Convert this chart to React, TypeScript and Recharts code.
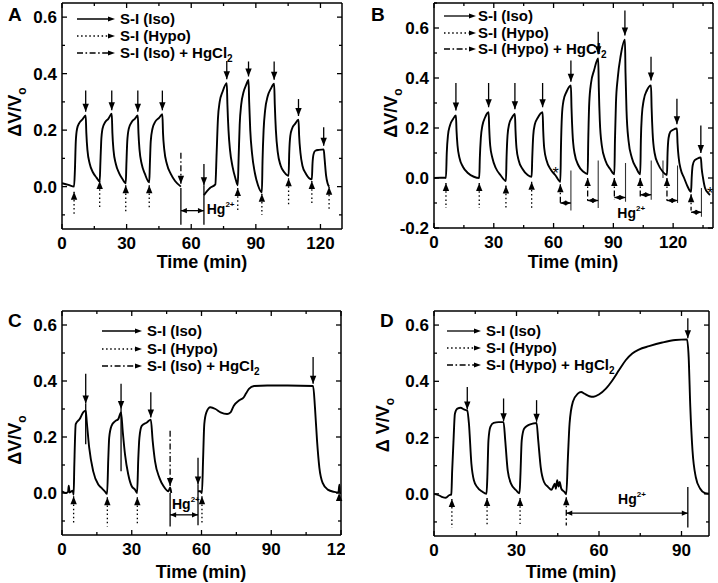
import React from "react";
import { LineChart, Line, XAxis, YAxis, ReferenceLine, ReferenceDot } from "recharts";

type Pt = [number, number | null];
type Tri = [number, number, number];

const FONT = "Arial, 'Liberation Sans', Helvetica, sans-serif";

// ---------- panel A ----------
const aTrace: Pt[] = [
  [0, 0.012], [3, 0.006], [5.6, 0.0], [6.0, 0.06], [6.4, 0.16], [7, 0.205], [8, 0.225], [9.5, 0.238], [11, 0.252],
  [11.3, 0.19], [11.8, 0.13], [12.9, 0.08], [14.4, 0.05], [16, 0.032], [17.5, 0.018],
  [17.8, 0.08], [18.2, 0.16], [18.8, 0.205], [20, 0.228], [21.5, 0.24], [23.1, 0.258],
  [23.4, 0.19], [23.9, 0.13], [25, 0.08], [26.5, 0.048], [28, 0.028], [29.6, 0.012],
  [29.9, 0.08], [30.3, 0.16], [31, 0.205], [32.3, 0.228], [33.8, 0.24], [35.2, 0.252],
  [35.5, 0.19], [36, 0.13], [37, 0.08], [38.5, 0.045], [40.5, 0.015],
  [40.8, 0.08], [41.2, 0.16], [42, 0.205], [43.3, 0.23], [45, 0.243], [46.6, 0.256],
  [46.9, 0.19], [47.5, 0.13], [48.7, 0.08], [50.5, 0.045], [52.5, 0.02], [55.2, 0.0],
  [60, null],
  [65.9, -0.03], [68.7, -0.005], [71.2, 0.008], [71.8, 0.12], [72.4, 0.24], [73.2, 0.3], [74.5, 0.335], [76.5, 0.366],
  [76.8, 0.29], [77.3, 0.2], [78, 0.13], [79.2, 0.07], [80.5, 0.03], [81.6, 0.005],
  [82, 0.1], [82.5, 0.22], [83.2, 0.29], [84.3, 0.335], [85.5, 0.36], [86.6, 0.378],
  [86.9, 0.3], [87.4, 0.2], [88.2, 0.12], [89.5, 0.05], [91, 0.005], [92.8, -0.02],
  [93.1, 0.09], [93.6, 0.2], [94.3, 0.27], [95.5, 0.32], [97, 0.347], [98.5, 0.364],
  [98.8, 0.29], [99.3, 0.2], [100.2, 0.12], [101.5, 0.075], [103.3, 0.05], [105.2, 0.038],
  [105.5, 0.12], [106, 0.18], [106.8, 0.205], [108.2, 0.222], [109.8, 0.237],
  [110.1, 0.18], [110.7, 0.12], [111.6, 0.075], [113.3, 0.045], [116, 0.026],
  [116.3, 0.08], [116.8, 0.115], [117.6, 0.127], [119.3, 0.13], [121.5, 0.132],
  [121.9, 0.1], [122.6, 0.04], [123.3, 0.012], [124, 0.0],
];
// [time, top of arrow line, arrow tip]
const aDown: Tri[] = [
  [11, 0.34, 0.265], [23.1, 0.34, 0.27], [35.2, 0.34, 0.265], [46.6, 0.34, 0.27], [65.9, 0.08, 0.005],
  [76.5, 0.445, 0.38], [86.6, 0.443, 0.39], [98.5, 0.443, 0.378], [109.8, 0.31, 0.25], [121.5, 0.21, 0.145],
];
const aHgDown: Tri[] = [[55.2, 0.12, 0.01]];
// [time, arrow tip, end of dotted line]
const aUp: Tri[] = [
  [5.6, -0.018, -0.105], [17.5, 0.02, -0.08], [29.6, 0.005, -0.09], [40.5, 0.005, -0.075],
  [81.6, -0.005, -0.085], [92.8, -0.025, -0.1], [105.2, 0.03, -0.065], [116, 0.02, -0.065], [124, 0.0, -0.08],
];
const aHgUp: Tri[] = [];
const aLines: Tri[] = [[55.2, -0.005, -0.135], [65.9, 0.005, -0.135]];
const aThin: Tri[] = [];
// [start, end, level]
const aHg: Tri[] = [[55.2, 65.9, -0.085]];
const aHgLabel: [number, number] = [67.2, -0.098];

// ---------- panel B ----------
const bTrace: Pt[] = [
  [0, 0], [5.8, 0.002], [6.0, 0.0], [6.4, 0.1], [7.0, 0.17], [8, 0.21], [9.5, 0.235], [11, 0.25],
  [11.3, 0.19], [11.8, 0.13], [12.8, 0.08], [14.5, 0.045], [17, 0.02], [20, 0.005], [22.7, 0.0],
  [23.0, 0.08], [23.5, 0.16], [24.3, 0.21], [25.5, 0.24], [27.4, 0.263],
  [27.7, 0.2], [28.2, 0.13], [29.3, 0.08], [31, 0.04], [33.5, 0.01], [36.1, -0.012],
  [36.4, 0.08], [36.9, 0.17], [37.7, 0.215], [39, 0.24], [40.6, 0.256],
  [40.9, 0.19], [41.4, 0.12], [42.5, 0.07], [44.5, 0.035], [47, 0.012], [49, 0.005],
  [49.3, 0.08], [49.8, 0.17], [50.6, 0.215], [52, 0.24], [54.5, 0.263],
  [54.8, 0.19], [55.3, 0.12], [56.5, 0.07], [58.5, 0.035], [61, 0.01], [63.4, -0.015],
  [63.7, 0.12], [64.2, 0.25], [65, 0.31], [66.5, 0.345], [68.7, 0.37],
  [69, 0.28], [69.5, 0.18], [70.5, 0.1], [72.5, 0.05], [75, 0.025], [77.1, 0.016],
  [77.4, 0.15], [77.9, 0.3], [78.8, 0.38], [80.3, 0.43], [82.4, 0.478],
  [82.7, 0.36], [83.2, 0.23], [84.2, 0.13], [86, 0.07], [88.5, 0.035], [90.5, 0.015],
  [90.8, 0.15], [91.3, 0.3], [92.2, 0.4], [93.7, 0.49], [95.8, 0.553],
  [96.1, 0.42], [96.6, 0.27], [97.6, 0.15], [99.3, 0.08], [101.5, 0.04], [103.5, 0.015],
  [103.8, 0.15], [104.3, 0.25], [105.2, 0.31], [106.8, 0.35], [108.9, 0.37],
  [109.2, 0.28], [109.7, 0.18], [110.7, 0.1], [112.5, 0.055], [114.8, 0.025], [116.9, 0.012],
  [117.2, 0.1], [117.7, 0.16], [118.6, 0.185], [120, 0.193], [121.9, 0.198],
  [122.2, 0.14], [122.8, 0.08], [123.8, 0.035], [125.5, 0.0], [127.3, -0.035], [129, -0.055],
  [129.3, 0.0], [129.8, 0.05], [130.7, 0.07], [132, 0.077], [133.9, 0.082],
  [134.3, 0.04], [135, 0.0], [136, -0.04], [137.5, -0.06], [138.5, -0.068],
];
const bDown: Tri[] = [
  [11, 0.38, 0.27], [27.4, 0.38, 0.283], [40.6, 0.38, 0.275], [54.5, 0.38, 0.283], [68.7, 0.47, 0.385],
  [82.4, 0.585, 0.495], [95.8, 0.67, 0.57], [108.9, 0.485, 0.39], [121.9, 0.317, 0.215], [133.9, 0.21, 0.1],
];
const bHgDown: Tri[] = [];
const bUp: Tri[] = [[6.0, -0.02, -0.12], [22.7, -0.02, -0.12], [36.1, -0.03, -0.12], [49, -0.015, -0.12]];
const bHgUp: Tri[] = [
  [63.4, -0.025, -0.1], [77.1, 0.0, -0.1], [90.5, 0.0, -0.085], [103.5, 0.0, -0.08], [116.9, 0.0, -0.095], [129, -0.065, -0.13],
];
const bLines: Tri[] = [];
const bThin: Tri[] = [
  [68.7, 0.03, -0.13], [82.4, 0.07, -0.12], [96.1, 0.06, -0.095], [109, 0.07, -0.087],
  [114.9, 0.07, 0.0], [122.2, 0.05, -0.1], [134.2, -0.04, -0.155],
];
const bHg: Tri[] = [
  [63.4, 68.7, -0.1], [77.1, 82.4, -0.09], [90.5, 96.1, -0.078], [103.5, 109, -0.067], [116.9, 122.2, -0.09], [129, 134.2, -0.137],
];
const bHgLabel: [number, number] = [92, -0.158];
const bStars: [number, number][] = [[61, 0.02], [138.5, -0.06]];

// ---------- panel C ----------
const cTrace: Pt[] = [
  [0, 0.006], [1.8, 0.0], [2.6, 0.004], [2.9, 0.026], [3.3, 0.002], [4.6, 0.008], [5.0, -0.006],
  [5.3, 0.1], [5.9, 0.246], [7.6, 0.264], [9.1, 0.288], [10.2, 0.294],
  [10.7, 0.25], [11.7, 0.162], [13.4, 0.078], [15.6, 0.03], [17, 0.018], [18.4, 0.006], [19.4, -0.003],
  [19.9, 0.12], [20.3, 0.198], [21.3, 0.24], [22.8, 0.256], [24.2, 0.264], [25.4, 0.288],
  [26.1, 0.222], [27.1, 0.138], [28.5, 0.066], [30, 0.024], [31.4, 0.012], [32.3, 0.0],
  [32.8, 0.12], [33.3, 0.198], [34.3, 0.24], [36.5, 0.252], [38.2, 0.262],
  [39, 0.186], [40, 0.114], [41.9, 0.054], [43.7, 0.024], [45.8, 0.006], [46.5, 0.02], [47, 0.0],
  [52, null],
  [58.5, 0.006], [59.5, 0.006], [60.2, 0.0], [60.7, 0.126], [61.2, 0.246], [62.1, 0.288], [63.8, 0.306],
  [66, 0.3], [68.2, 0.288], [71, 0.282], [72.5, 0.288], [73.9, 0.312], [76.1, 0.33], [78.2, 0.342],
  [79.2, 0.356], [80.4, 0.372], [82.6, 0.382], [88.3, 0.384], [97, 0.384], [108, 0.382],
  [108.8, 0.306], [109.7, 0.186], [110.7, 0.09], [112.1, 0.036], [114.3, 0.012], [117.1, 0.004],
  [118.9, 0.002], [119.3, 0.03], [119.6, 0.0], [120, 0.0],
];
const cDown: Tri[] = [[10.2, 0.426, 0.32], [25.4, 0.39, 0.3], [38.2, 0.36, 0.27], [108, 0.486, 0.39], [58.5, 0.126, 0.03]];
const cHgDown: Tri[] = [[46.5, 0.222, 0.025]];
const cUp: Tri[] = [[5.0, -0.012, -0.108], [19.5, -0.015, -0.12], [32.4, -0.015, -0.115], [60.2, -0.012, -0.11], [119.2, 0.0, 0.0]];
const cHgUp: Tri[] = [];
const cLines: Tri[] = [[10.2, 0.32, 0.174], [25.4, 0.3, 0.078], [46.5, 0.0, -0.12], [58.5, 0.03, -0.115]];
const cThin: Tri[] = [];
const cHg: Tri[] = [[46.5, 58.5, -0.078]];
const cHgLabel: [number, number] = [47.3, -0.058];

// ---------- panel D ----------
const dTrace: Pt[] = [
  [0, 0], [1.9, -0.006], [3.1, -0.012], [4.3, -0.014], [5.5, -0.005], [6.3, -0.002],
  [6.6, 0.08], [7.1, 0.19], [7.6, 0.285], [8.5, 0.303], [9.7, 0.306], [10.9, 0.3], [12.1, 0.295],
  [12.7, 0.25], [13.6, 0.107], [14.5, 0.048], [15.7, 0.024], [17.5, 0.008], [19.1, 0.0],
  [19.4, 0.06], [19.8, 0.19], [20.5, 0.238], [21.7, 0.252], [23.5, 0.255], [25.3, 0.255],
  [25.9, 0.19], [26.8, 0.083], [28, 0.036], [29.9, 0.012], [31.1, 0.002],
  [31.4, 0.06], [31.9, 0.19], [32.8, 0.232], [34.3, 0.244], [36.1, 0.25], [37.3, 0.252],
  [37.9, 0.19], [38.8, 0.095], [40, 0.042], [41.5, 0.024], [42.7, 0.014], [43.3, 0.024], [43.9, 0.036],
  [44.3, 0.018], [44.8, 0.048], [45.3, 0.026], [45.7, 0.042], [46.3, 0.018], [47.5, 0.006], [48.1, -0.002],
  [48.7, 0.13], [49.3, 0.25], [50.5, 0.327], [52.3, 0.356], [53.5, 0.362], [54.7, 0.356], [56.5, 0.347],
  [58, 0.345], [60.1, 0.354], [62.5, 0.374], [64.9, 0.404], [67.3, 0.44], [69.7, 0.475], [72.1, 0.499],
  [74.5, 0.513], [78.2, 0.525], [83, 0.538], [87.8, 0.547], [92, 0.549],
  [92.6, 0.487], [93.2, 0.309], [94, 0.154], [95.2, 0.059], [96.8, 0.018], [98.6, 0.002], [100, 0.0],
];
const dDown: Tri[] = [[12.1, 0.38, 0.3], [25.3, 0.339, 0.258], [37.3, 0.333, 0.256], [92.3, 0.624, 0.553]];
const dHgDown: Tri[] = [];
const dUp: Tri[] = [[6.5, -0.018, -0.121], [19.3, -0.015, -0.113], [31.3, -0.015, -0.107]];
const dHgUp: Tri[] = [[48.1, -0.012, -0.113]];
const dLines: Tri[] = [[92.3, 0.024, -0.12]];
const dThin: Tri[] = [];
const dHg: Tri[] = [[48.1, 92.3, -0.069]];
const dHgLabel: [number, number] = [72, -0.037];

// ticks
const xTicks130 = [0, 15, 30, 45, 60, 75, 90, 105, 120];
const xTicks140 = [0, 15, 30, 45, 60, 75, 90, 105, 120, 135];
const xTicks100 = [0, 15, 30, 45, 60, 75, 90];
const yTicksStd = [-0.1, 0, 0.1, 0.2, 0.3, 0.4, 0.5, 0.6];
const yTicksB = [-0.2, -0.1, 0, 0.1, 0.2, 0.3, 0.4, 0.5, 0.6, 0.7];

const legendIso = ["S-I (Iso)", "S-I (Hypo)", "S-I (Iso) + HgCl"];
const legendHypo = ["S-I (Iso)", "S-I (Hypo)", "S-I (Hypo) + HgCl"];

type Box = { left: number; top: number; right: number; bottom: number };

interface PanelProps {
  letter: string;
  letterPos: [number, number];
  left: number;
  top: number;
  width: number;
  height: number;
  plot: Box;
  xDomain: [number, number];
  yDomain: [number, number];
  xTicks: number[];
  yTicks: number[];
  trace: Pt[];
  down: Tri[];
  hgDown: Tri[];
  up: Tri[];
  hgUp: Tri[];
  lines: Tri[];
  thin: Tri[];
  hg: Tri[];
  hgLabel: [number, number];
  hgAnchor: "start" | "middle";
  stars?: [number, number][];
  legend: string[];
  legendPos: { x1: number; x2: number; tx: number; ys: number[] };
  yTitle: { x: number; y: number; text: string };
  xTitle: { x: number; y: number };
}

const DOT = "1.5 2.6";
const DASHDOT = "6 2.5 1.6 2.5";

const head = (dir: "up" | "down" | "left" | "right", w = 3.2, h = 8) => (s: any) => {
  const { cx, cy } = s;
  let pts = "";
  if (dir === "down") pts = `${cx},${cy} ${cx - w},${cy - h} ${cx + w},${cy - h}`;
  if (dir === "up") pts = `${cx},${cy} ${cx - w},${cy + h} ${cx + w},${cy + h}`;
  if (dir === "left") pts = `${cx},${cy} ${cx + h},${cy - w} ${cx + h},${cy + w}`;
  if (dir === "right") pts = `${cx},${cy} ${cx - h},${cy - w} ${cx - h},${cy + w}`;
  return <polygon points={pts} fill="#000" stroke="none" />;
};

function vseg(key: string, t: number, a: number, b: number, dash?: string, color = "#000", w = 1.3) {
  return (
    <ReferenceLine
      key={key}
      segment={[{ x: t, y: a }, { x: t, y: b }]}
      stroke={color}
      strokeWidth={w}
      strokeDasharray={dash}
      ifOverflow="visible"
    />
  );
}

function dot(key: string, t: number, v: number, shape: any) {
  return <ReferenceDot key={key} x={t} y={v} r={0} shape={shape} ifOverflow="visible" />;
}

function Panel(p: PanelProps) {
  const { plot } = p;
  const data = p.trace.map(([t, v]) => ({ t, v }));

  const XTick = (props: any) => {
    const { x, y, payload } = props;
    const major = payload.value % 30 === 0;
    const len = major ? 5 : 3;
    return (
      <g>
        <line x1={x} y1={y} x2={x} y2={y - len} stroke="#000" strokeWidth={1.3} />
        <line x1={x} y1={plot.top} x2={x} y2={plot.top + len} stroke="#000" strokeWidth={1.3} />
        {major && (
          <text x={x} y={y + 20} textAnchor="middle" fontFamily={FONT} fontWeight="bold" fontSize={17} fill="#000">
            {payload.value}
          </text>
        )}
      </g>
    );
  };

  const YTick = (props: any) => {
    const { x, y, payload } = props;
    const major = Math.abs(Math.round(payload.value * 10)) % 2 === 0;
    const len = major ? 5 : 3;
    return (
      <g>
        <line x1={x} y1={y} x2={x + len} y2={y} stroke="#000" strokeWidth={1.3} />
        <line x1={plot.right} y1={y} x2={plot.right - len} y2={y} stroke="#000" strokeWidth={1.3} />
        {major && (
          <text x={x - 5} y={y + 6} textAnchor="end" fontFamily={FONT} fontWeight="bold" fontSize={17} fill="#000">
            {payload.value.toFixed(1)}
          </text>
        )}
      </g>
    );
  };

  const hgText = (s: any) => (
    <text x={s.cx} y={s.cy} textAnchor={p.hgAnchor} fontFamily={FONT} fontWeight="bold" fontSize={14} fill="#000">
      Hg<tspan fontSize={8} dy={-7}>2+</tspan>
    </text>
  );
  const starText = (s: any) => (
    <text x={s.cx} y={s.cy + 6} textAnchor="middle" fontFamily={FONT} fontSize={16} fill="#000">
      *
    </text>
  );

  const refs: any[] = [];
  p.down.forEach(([t, top, tip], i) => {
    refs.push(vseg(`d${i}`, t, top, tip));
    refs.push(dot(`dh${i}`, t, tip, head("down")));
  });
  p.hgDown.forEach(([t, top, tip], i) => {
    refs.push(vseg(`hd${i}`, t, top, tip, DASHDOT));
    refs.push(dot(`hdh${i}`, t, tip, head("down")));
  });
  p.up.forEach(([t, tip, end], i) => {
    if (end < tip) refs.push(vseg(`u${i}`, t, tip, end, DOT));
    refs.push(dot(`uh${i}`, t, tip, head("up")));
  });
  p.hgUp.forEach(([t, tip, end], i) => {
    refs.push(vseg(`hu${i}`, t, tip, end, DASHDOT));
    refs.push(dot(`huh${i}`, t, tip, head("up")));
  });
  p.lines.forEach(([t, a, b], i) => refs.push(vseg(`l${i}`, t, a, b)));
  p.thin.forEach(([t, a, b], i) => refs.push(vseg(`t${i}`, t, a, b, undefined, "#333", 1.1)));
  p.hg.forEach(([t1, t2, lv], i) => {
    refs.push(
      <ReferenceLine
        key={`hg${i}`}
        segment={[{ x: t1, y: lv }, { x: t2, y: lv }]}
        stroke="#000"
        strokeWidth={1.3}
        ifOverflow="visible"
      />
    );
    refs.push(dot(`hgl${i}`, t1, lv, head("left", 2.6, 6)));
    refs.push(dot(`hgr${i}`, t2, lv, head("right", 2.6, 6)));
  });
  refs.push(dot("hgtext", p.hgLabel[0], p.hgLabel[1], hgText));
  (p.stars || []).forEach(([t, v], i) => refs.push(dot(`s${i}`, t, v, starText)));

  const lp = p.legendPos;
  const dashes = [undefined, DOT, DASHDOT];

  return (
    <div style={{ position: "absolute", left: p.left, top: p.top, width: p.width, height: p.height, overflow: "hidden" }}>
      <LineChart
        width={p.width}
        height={p.height}
        data={data}
        margin={{ top: plot.top, right: p.width - plot.right, left: 0, bottom: p.height - plot.bottom - 40 }}
      >
        <XAxis
          dataKey="t"
          type="number"
          domain={p.xDomain}
          ticks={p.xTicks}
          interval={0}
          allowDataOverflow
          height={40}
          tickSize={0}
          tickMargin={0}
          tick={XTick}
          axisLine={{ stroke: "#000", strokeWidth: 1.5 }}
        />
        <YAxis
          type="number"
          domain={p.yDomain}
          ticks={p.yTicks}
          interval={0}
          allowDataOverflow
          width={plot.left}
          tickSize={0}
          tickMargin={0}
          tick={YTick}
          axisLine={{ stroke: "#000", strokeWidth: 1.5 }}
        />
        <ReferenceLine y={p.yDomain[1]} stroke="#000" strokeWidth={1.5} ifOverflow="visible" />
        <ReferenceLine x={p.xDomain[1]} stroke="#000" strokeWidth={1.5} ifOverflow="visible" />
        {refs}
        <Line
          type="monotone"
          dataKey="v"
          stroke="#000"
          strokeWidth={1.9}
          dot={false}
          activeDot={false}
          connectNulls={false}
          isAnimationActive={false}
        />
      </LineChart>
      <svg
        width={p.width}
        height={p.height}
        style={{ position: "absolute", left: 0, top: 0, pointerEvents: "none" }}
      >
        <text x={p.letterPos[0]} y={p.letterPos[1]} fontFamily={FONT} fontWeight="bold" fontSize={19} fill="#000">
          {p.letter}
        </text>
        <text
          transform={`translate(${p.yTitle.x},${p.yTitle.y}) rotate(-90)`}
          textAnchor="middle"
          fontFamily={FONT}
          fontWeight="bold"
          fontSize={18}
          fill="#000"
        >
          {p.yTitle.text}
          <tspan fontSize={12} dy={5}>o</tspan>
        </text>
        <text x={p.xTitle.x} y={p.xTitle.y} textAnchor="middle" fontFamily={FONT} fontWeight="bold" fontSize={18} fill="#000">
          Time (min)
        </text>
        {p.legend.map((label, i) => (
          <g key={label}>
            <line
              x1={lp.x1}
              y1={lp.ys[i]}
              x2={lp.x2 - 5}
              y2={lp.ys[i]}
              stroke="#000"
              strokeWidth={1.3}
              strokeDasharray={dashes[i]}
            />
            <polygon
              points={`${lp.x2},${lp.ys[i]} ${lp.x2 - 7},${lp.ys[i] - 2.6} ${lp.x2 - 7},${lp.ys[i] + 2.6}`}
              fill="#000"
            />
            <text x={lp.tx} y={lp.ys[i] + 5} fontFamily={FONT} fontWeight="bold" fontSize={15} fill="#000">
              {label}
              {i === 2 && (
                <tspan fontSize={10} dy={4}>
                  2
                </tspan>
              )}
            </text>
          </g>
        ))}
      </svg>
    </div>
  );
}

export default function App() {
  return (
    <div style={{ position: "absolute", left: 0, top: 0, width: 718, height: 583, background: "#fff", overflow: "hidden" }}>
      <Panel
        letter="A"
        letterPos={[8, 21]}
        left={0}
        top={0}
        width={350}
        height={290}
        plot={{ left: 62, top: 3, right: 342, bottom: 229 }}
        xDomain={[0, 130]}
        yDomain={[-0.15, 0.65]}
        xTicks={xTicks130}
        yTicks={yTicksStd}
        trace={aTrace}
        down={aDown}
        hgDown={aHgDown}
        up={aUp}
        hgUp={aHgUp}
        lines={aLines}
        thin={aThin}
        hg={aHg}
        hgLabel={aHgLabel}
        hgAnchor="start"
        legend={legendIso}
        legendPos={{ x1: 77, x2: 115, tx: 120, ys: [19, 36, 53] }}
        yTitle={{ x: 21, y: 112, text: "ΔV/V" }}
        xTitle={{ x: 202, y: 268 }}
      />
      <Panel
        letter="B"
        letterPos={[5, 21]}
        left={366}
        top={0}
        width={352}
        height={290}
        plot={{ left: 68, top: 3, right: 347, bottom: 228 }}
        xDomain={[0, 140]}
        yDomain={[-0.2, 0.7]}
        xTicks={xTicks140}
        yTicks={yTicksB}
        trace={bTrace}
        down={bDown}
        hgDown={bHgDown}
        up={bUp}
        hgUp={bHgUp}
        lines={bLines}
        thin={bThin}
        hg={bHg}
        hgLabel={bHgLabel}
        hgAnchor="start"
        stars={bStars}
        legend={legendHypo}
        legendPos={{ x1: 78, x2: 110, tx: 112, ys: [16, 33, 49] }}
        yTitle={{ x: 31, y: 113, text: "ΔV/V" }}
        xTitle={{ x: 207, y: 268 }}
      />
      <Panel
        letter="C"
        letterPos={[8, 37]}
        left={0}
        top={290}
        width={345}
        height={293}
        plot={{ left: 62, top: 21, right: 341, bottom: 245 }}
        xDomain={[0, 120]}
        yDomain={[-0.15, 0.65]}
        xTicks={xTicks130}
        yTicks={yTicksStd}
        trace={cTrace}
        down={cDown}
        hgDown={cHgDown}
        up={cUp}
        hgUp={cHgUp}
        lines={cLines}
        thin={cThin}
        hg={cHg}
        hgLabel={cHgLabel}
        hgAnchor="start"
        legend={legendIso}
        legendPos={{ x1: 102, x2: 142, tx: 147, ys: [41, 59, 76] }}
        yTitle={{ x: 21, y: 150, text: "ΔV/V" }}
        xTitle={{ x: 201, y: 288 }}
      />
      <Panel
        letter="D"
        letterPos={[14, 37]}
        left={366}
        top={290}
        width={352}
        height={293}
        plot={{ left: 68, top: 21, right: 343, bottom: 246 }}
        xDomain={[0, 100]}
        yDomain={[-0.15, 0.65]}
        xTicks={xTicks100}
        yTicks={yTicksStd}
        trace={dTrace}
        down={dDown}
        hgDown={dHgDown}
        up={dUp}
        hgUp={dHgUp}
        lines={dLines}
        thin={dThin}
        hg={dHg}
        hgLabel={dHgLabel}
        hgAnchor="middle"
        legend={legendHypo}
        legendPos={{ x1: 81, x2: 115, tx: 120, ys: [41, 58, 75] }}
        yTitle={{ x: 23, y: 135, text: "Δ V/V" }}
        xTitle={{ x: 205, y: 288 }}
      />
    </div>
  );
}
